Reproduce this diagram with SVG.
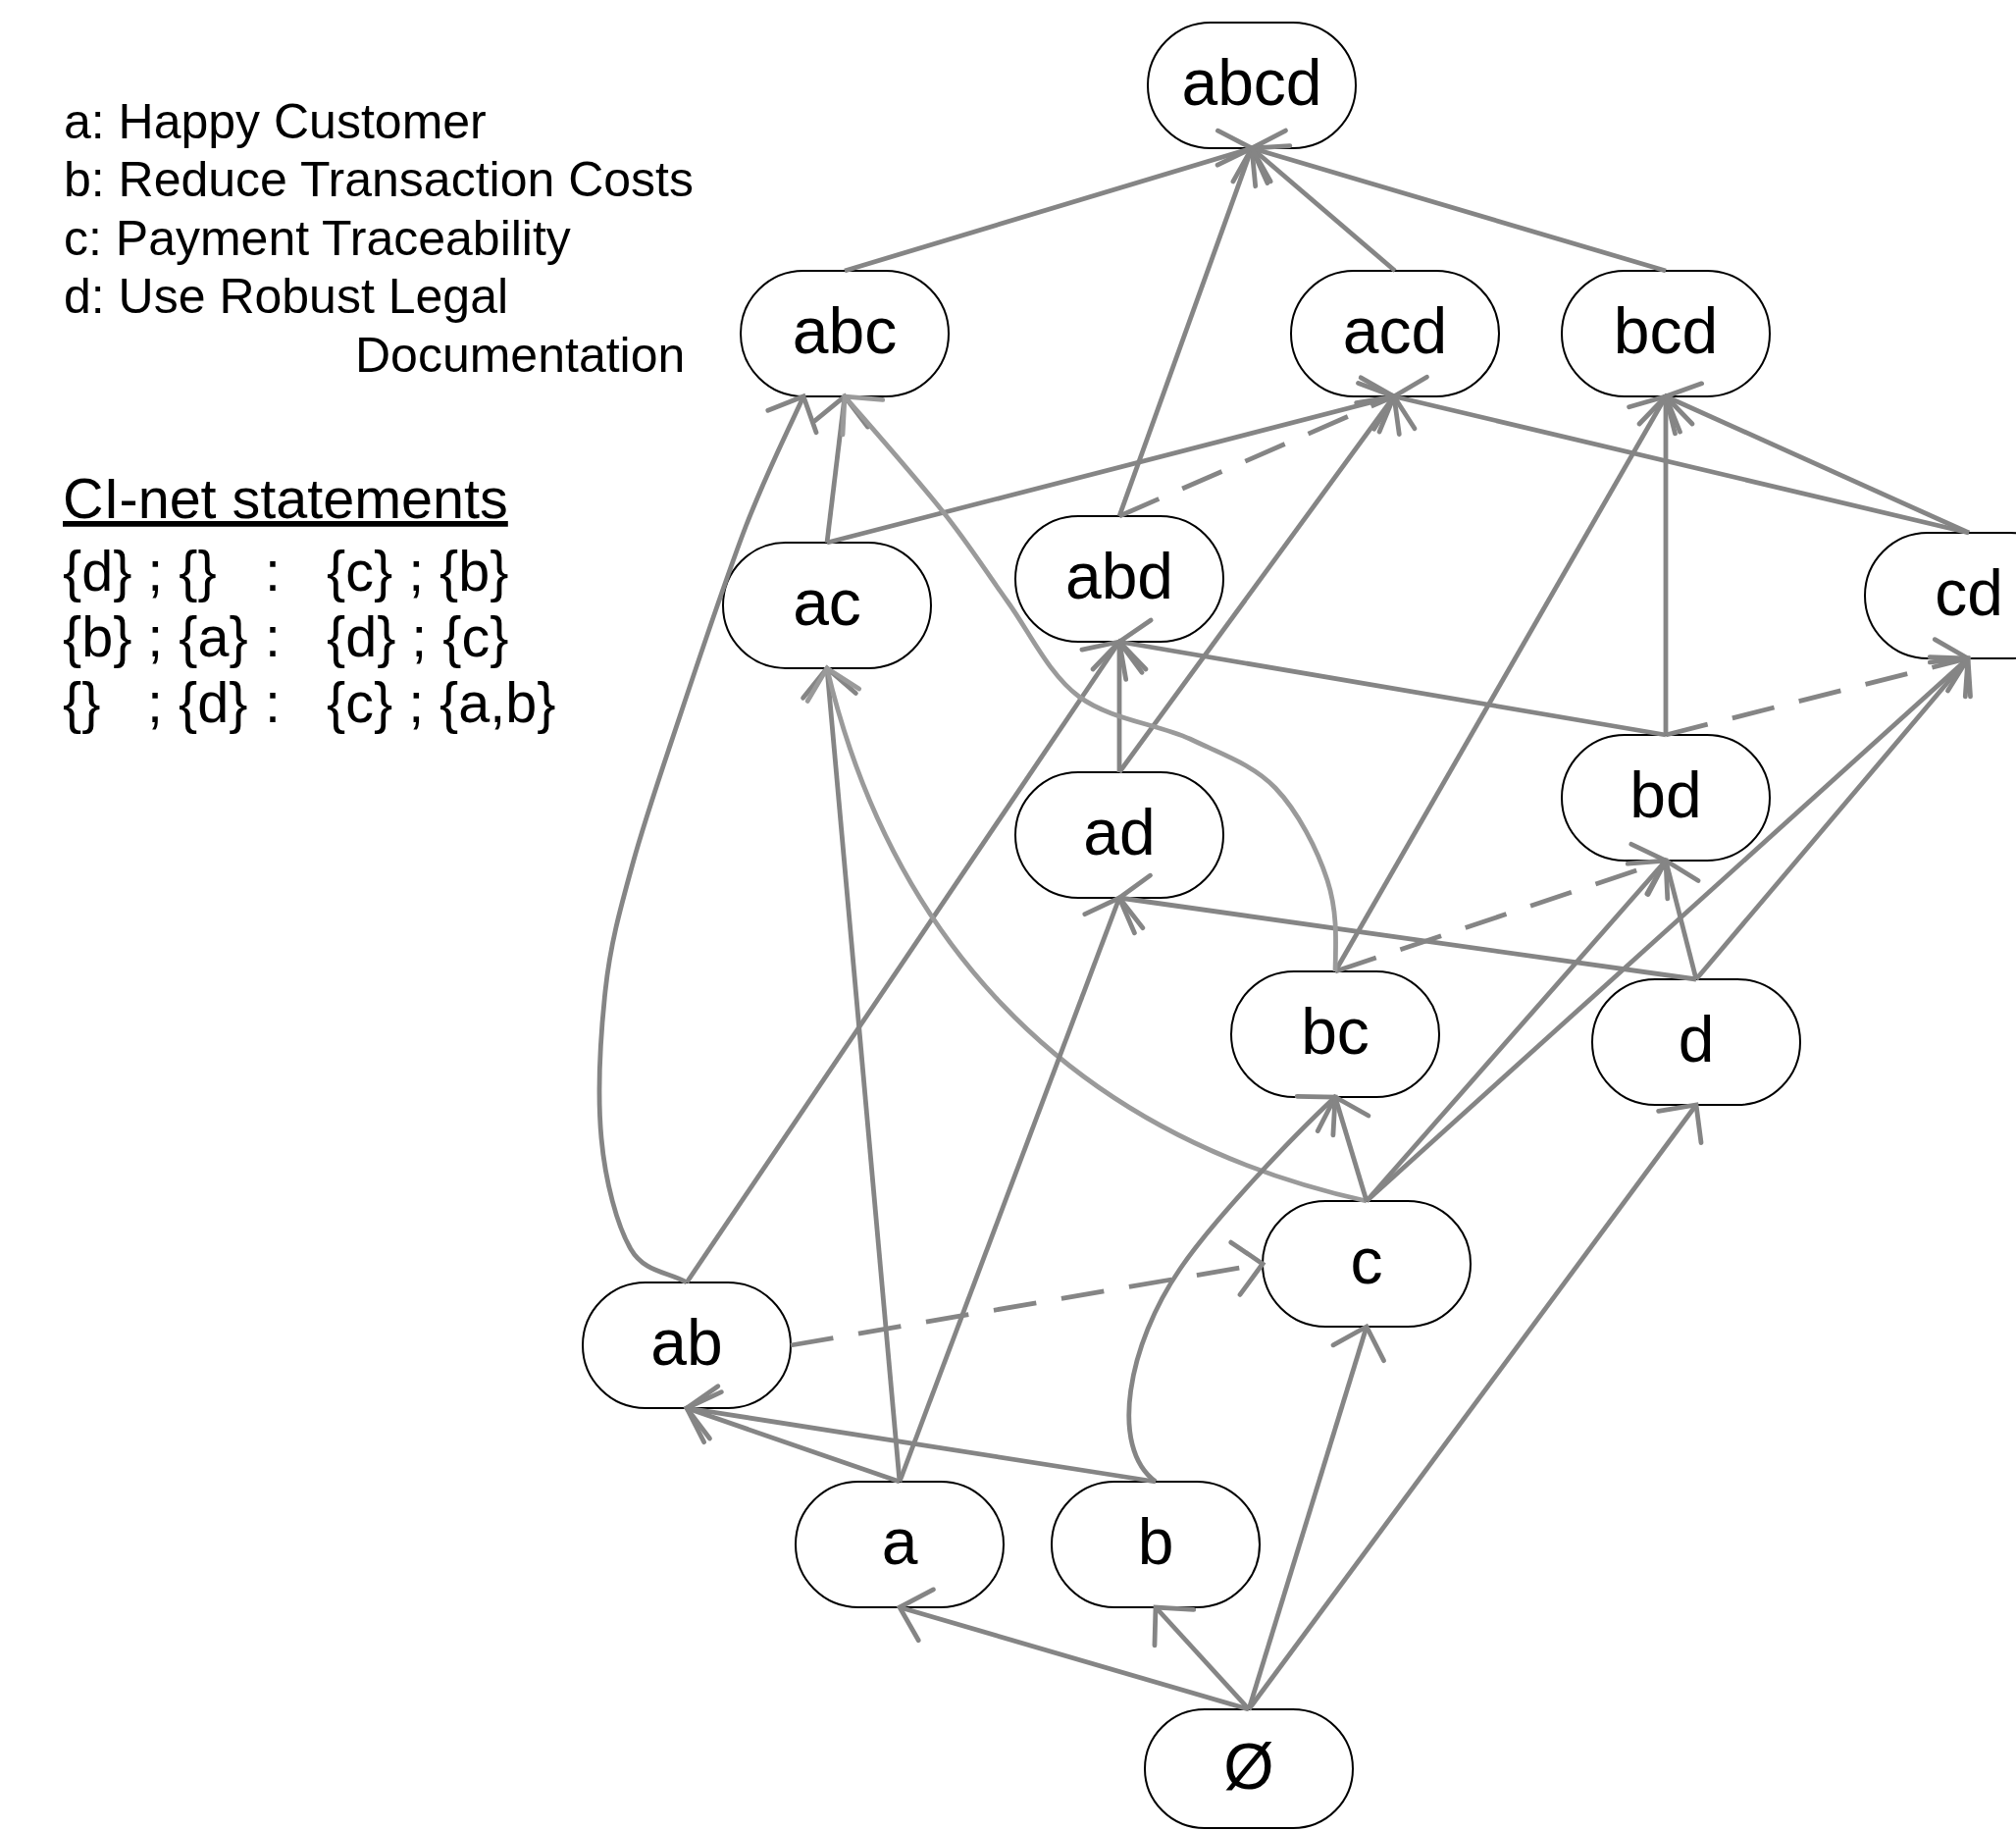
<svg xmlns="http://www.w3.org/2000/svg" width="2055" height="1866" viewBox="0 0 2055 1866">
<style>
.nd rect{fill:#fff;stroke:#000;stroke-width:2}
.nd text{font-family:"Liberation Sans",Arial,sans-serif;font-size:66px;text-anchor:middle;fill:#000}
.e{fill:none;stroke:#858585;stroke-width:4.8;marker-end:url(#arr)}
.l{stroke:#9a9a9a;marker-end:url(#arrl)}
.d{stroke-dasharray:44 26}
.lg{font-family:"Liberation Sans",Arial,sans-serif;font-size:50px;fill:#000}
.st{font-family:"Liberation Sans",Arial,sans-serif;font-size:57.5px;fill:#000}
</style>
<defs>
<marker id="arr" markerUnits="userSpaceOnUse" markerWidth="80" markerHeight="80" viewBox="-40 -40 80 80" refX="0" refY="0" orient="auto">
<path d="M-28,-27 L0,0 L-28,27" fill="none" stroke="#858585" stroke-width="4.8" stroke-linecap="round"/>
</marker>
<marker id="arrl" markerUnits="userSpaceOnUse" markerWidth="80" markerHeight="80" viewBox="-40 -40 80 80" refX="0" refY="0" orient="auto">
<path d="M-28,-27 L0,0 L-28,27" fill="none" stroke="#9a9a9a" stroke-width="4.8" stroke-linecap="round"/>
</marker>
</defs>
<rect width="2055" height="1866" fill="#fff"/>
<g id="legend">
<text class="lg" x="65" y="141">a: Happy Customer</text>
<text class="lg" x="65" y="200">b: Reduce Transaction Costs</text>
<text class="lg" x="65" y="260">c: Payment Traceability</text>
<text class="lg" x="65" y="319">d: Use Robust Legal</text>
<text class="lg" x="362" y="379">Documentation</text>
<text class="st" x="64" y="528" font-size="59" text-decoration="underline">CI-net statements</text>
<text class="st" y="602"><tspan x="64">{d} ; {}</tspan><tspan x="270">:</tspan><tspan x="333">{c} ; {b}</tspan></text>
<text class="st" y="669"><tspan x="64">{b} ; {a}</tspan><tspan x="270">:</tspan><tspan x="333">{d} ; {c}</tspan></text>
<text class="st" y="736"><tspan x="64">{}</tspan><tspan x="150">; {d}</tspan><tspan x="270">:</tspan><tspan x="333">{c} ; {a,b}</tspan></text>
</g>
<g id="nodes">
<g id="n-abcd" class="nd"><rect x="1170" y="23" width="212" height="128" rx="64"/><text x="1276" y="107">abcd</text></g>
<g id="n-abc" class="nd"><rect x="755" y="276" width="212" height="128" rx="64"/><text x="861" y="360">abc</text></g>
<g id="n-acd" class="nd"><rect x="1316" y="276" width="212" height="128" rx="64"/><text x="1422" y="360">acd</text></g>
<g id="n-bcd" class="nd"><rect x="1592" y="276" width="212" height="128" rx="64"/><text x="1698" y="360">bcd</text></g>
<g id="n-ac" class="nd"><rect x="737" y="553" width="212" height="128" rx="64"/><text x="843" y="637">ac</text></g>
<g id="n-abd" class="nd"><rect x="1035" y="526" width="212" height="128" rx="64"/><text x="1141" y="610">abd</text></g>
<g id="n-cd" class="nd"><rect x="1901" y="543" width="212" height="128" rx="64"/><text x="2007" y="627">cd</text></g>
<g id="n-ad" class="nd"><rect x="1035" y="787" width="212" height="128" rx="64"/><text x="1141" y="871">ad</text></g>
<g id="n-bd" class="nd"><rect x="1592" y="749" width="212" height="128" rx="64"/><text x="1698" y="833">bd</text></g>
<g id="n-bc" class="nd"><rect x="1255" y="990" width="212" height="128" rx="64"/><text x="1361" y="1074">bc</text></g>
<g id="n-d" class="nd"><rect x="1623" y="998" width="212" height="128" rx="64"/><text x="1729" y="1082">d</text></g>
<g id="n-c" class="nd"><rect x="1287" y="1224" width="212" height="128" rx="64"/><text x="1393" y="1308">c</text></g>
<g id="n-ab" class="nd"><rect x="594" y="1307" width="212" height="128" rx="64"/><text x="700" y="1391">ab</text></g>
<g id="n-a" class="nd"><rect x="811" y="1510" width="212" height="128" rx="64"/><text x="917" y="1594">a</text></g>
<g id="n-b" class="nd"><rect x="1072" y="1510" width="212" height="128" rx="64"/><text x="1178" y="1594">b</text></g>
<g id="n-empty" class="nd"><rect x="1167" y="1742" width="212" height="121" rx="61"/><text x="1273" y="1823">Ø</text></g>
</g>
<g id="connectors">
<path class="e" d="M861,276 L1276,151"/>
<path class="e" d="M1141,526 L1276,151"/>
<path class="e" d="M1422,276 L1276,151"/>
<path class="e" d="M1698,276 L1276,151"/>
<path class="e" d="M843,553 L861,404"/>
<path class="e" d="M843,553 L1421,404"/>
<path class="e d" d="M1141,526 L1421,404"/>
<path class="e" d="M1141,787 L1421,404"/>
<path class="e" d="M2007,543 L1421,404"/>
<path class="e" d="M1361,990 L1698,404"/>
<path class="e" d="M1698,749 L1698,404"/>
<path class="e" d="M2007,543 L1698,404"/>
<path class="e" d="M1141,787 L1141,654"/>
<path class="e" d="M700,1307 L1141,654"/>
<path class="e" d="M1698,749 L1141,654"/>
<path class="e d" d="M1698,749 L2006,671"/>
<path class="e" d="M1393,1224 L2006,671"/>
<path class="e" d="M1729,998 L2006,671"/>
<path class="e" d="M917,1510 L843,681"/>
<path class="e l" d="M1393,1224 C1073,1153 904,940 843,681"/>
<path class="e" d="M917,1510 L1141,915"/>
<path class="e" d="M1729,998 L1141,915"/>
<path class="e d" d="M1361,990 L1698,877"/>
<path class="e" d="M1393,1224 L1698,877"/>
<path class="e" d="M1729,998 L1698,877"/>
<path class="e" d="M1393,1224 L1361,1118"/>
<path class="e" d="M1178,1510 C1130,1475 1150,1370 1203,1293 C1237,1243 1318,1158 1361,1118"/>
<path class="e" d="M1273,1742 L1729,1126"/>
<path class="e d" d="M806,1371 L1287,1288"/>
<path class="e" d="M1273,1742 L1393,1352"/>
<path class="e" d="M917,1510 L700,1435"/>
<path class="e" d="M1178,1510 L700,1435"/>
<path class="e" d="M1273,1742 L917,1638"/>
<path class="e" d="M1273,1742 L1178,1638"/>
<path class="e" d="M700,1307 C681,1296 657,1297 643,1273 C629,1249 617,1204 613,1160 C609,1116 612,1057 617,1010 C622,963 632,927 645,880 C658,833 674,787 693,730 C712,673 739,592 760,537 C781,483 799,448 819,404"/>
<path class="e l" d="M1361,990 C1362,955 1363,928 1353,897 C1343,866 1323,827 1300,803 C1277,779 1246,769 1213,753 C1180,738 1131,733 1100,710 C1069,687 1050,645 1027,613 C1004,581 988,555 960,520 C932,485 894,442 861,404"/>
</g>
</svg>
